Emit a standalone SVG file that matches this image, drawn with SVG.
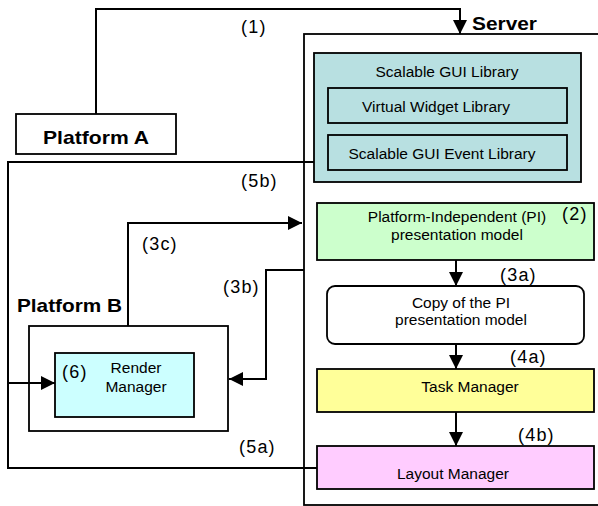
<svg xmlns="http://www.w3.org/2000/svg" width="598" height="506" viewBox="0 0 598 506">
<style>
  text { font-family: "Liberation Sans", Arial, sans-serif; fill: #000; }
  .t { font-size: 15.5px; text-anchor: middle; }
  .b { font-size: 19px; font-weight: bold; }
  .lbl { font-size: 18px; letter-spacing: 1.2px; }
  .box { stroke: #000; stroke-width: 1.8; }
  .ln { fill: none; stroke: #000; stroke-width: 2; }
</style>
<defs>
  <marker id="ah" markerUnits="userSpaceOnUse" markerWidth="15" markerHeight="15" refX="14" refY="7" orient="auto">
    <path d="M0,0 L14,7 L0,14 z" fill="#000"/>
  </marker>
</defs>

<g id="server">
  <rect class="box" x="304" y="34" width="310" height="471" fill="#fff"/>
  <text class="b" x="472" y="30" textLength="65" lengthAdjust="spacingAndGlyphs">Server</text>
</g>

<g id="platformA">
  <rect class="box" x="16" y="114" width="160" height="40" fill="#fff"/>
  <text class="b" x="43" y="144" textLength="106" lengthAdjust="spacingAndGlyphs">Platform A</text>
</g>

<g id="platformB">
  <rect class="box" x="29" y="326" width="199" height="105" fill="#fff"/>
  <text class="b" x="17" y="312" textLength="105" lengthAdjust="spacingAndGlyphs">Platform B</text>
</g>

<g id="renderManager">
  <rect class="box" x="55" y="353" width="139" height="64" fill="#CCFFFF"/>
  <text class="lbl" x="62" y="378">(6)</text>
  <text class="t" x="136" y="373">Render</text>
  <text class="t" x="136" y="392">Manager</text>
</g>

<g id="scalableGUILibrary">
  <rect class="box" x="314" y="53" width="267" height="129" fill="#B8E0E1"/>
  <text class="t" x="447" y="77">Scalable GUI Library</text>
</g>

<g id="virtualWidgetLibrary">
  <rect class="box" x="328" y="88" width="239" height="35" fill="#B8E0E1"/>
  <text class="t" x="436" y="112">Virtual Widget Library</text>
</g>

<g id="scalableGUIEventLibrary">
  <rect class="box" x="328" y="135" width="239" height="35" fill="#B8E0E1"/>
  <text class="t" x="442" y="159">Scalable GUI Event Library</text>
</g>

<g id="piModel">
  <rect class="box" x="317" y="203" width="277" height="57" fill="#CCFFCC"/>
  <text class="t" x="457" y="222">Platform-Independent (PI)</text>
  <text class="t" x="457" y="240">presentation model</text>
  <text class="lbl" x="562" y="220">(2)</text>
</g>

<g id="copyModel">
  <rect class="box" x="327" y="286" width="257" height="58" rx="8" ry="8" fill="#fff"/>
  <text class="t" x="461" y="308">Copy of the PI</text>
  <text class="t" x="461" y="325">presentation model</text>
</g>

<g id="taskManager">
  <rect class="box" x="317" y="369" width="277" height="43" fill="#FFFF99"/>
  <text class="t" x="470" y="392">Task Manager</text>
</g>

<g id="layoutManager">
  <rect class="box" x="317" y="446" width="277" height="43" fill="#FFCCFF"/>
  <text class="t" x="453" y="479">Layout Manager</text>
</g>

<g id="connectors">
  <polyline class="ln" points="96,114 96,9 460,9 460,34" marker-end="url(#ah)"/>
  <polyline class="ln" points="314,162 8,162 8,468 317,468"/>
  <line class="ln" x1="8" y1="383" x2="55" y2="383" marker-end="url(#ah)"/>
  <polyline class="ln" points="128,326 128,223 302,223" marker-end="url(#ah)"/>
  <polyline class="ln" points="304,270 266,270 266,379 229,379" marker-end="url(#ah)"/>
  <line class="ln" x1="456" y1="260" x2="456" y2="286" marker-end="url(#ah)"/>
  <line class="ln" x1="456" y1="344" x2="456" y2="369" marker-end="url(#ah)"/>
  <line class="ln" x1="456" y1="412" x2="456" y2="446" marker-end="url(#ah)"/>
  <text class="lbl" x="241" y="33">(1)</text>
  <text class="lbl" x="241" y="187">(5b)</text>
  <text class="lbl" x="142" y="250">(3c)</text>
  <text class="lbl" x="223" y="293">(3b)</text>
  <text class="lbl" x="500" y="281">(3a)</text>
  <text class="lbl" x="510" y="363">(4a)</text>
  <text class="lbl" x="518" y="441">(4b)</text>
  <text class="lbl" x="239" y="453">(5a)</text>
</g>
</svg>
